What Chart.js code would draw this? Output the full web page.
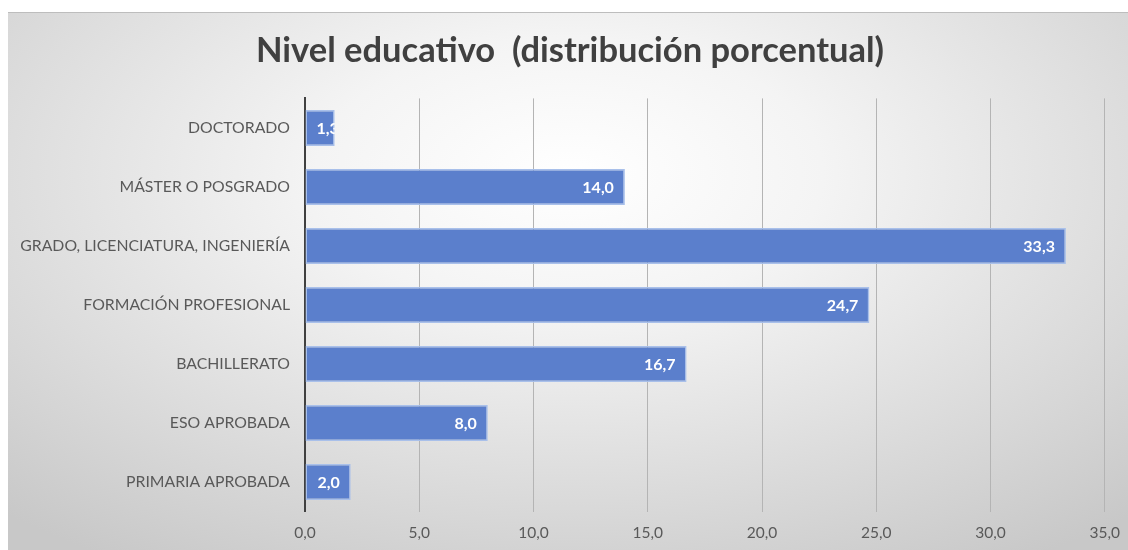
<!DOCTYPE html>
<html>
<head>
<meta charset="utf-8">
<script src="https://cdn.jsdelivr.net/npm/chart.js@4"></script>
<style>
  body { margin: 0; background: #fff; overflow: hidden; }
  #wrap {
    position: absolute; left: 8px; top: 12px; width: 1124px; height: 538px;
    background: radial-gradient(ellipse 75% 85% at 50% 30%, #ffffff 0%, #f4f4f4 30%, #dedede 65%, #c8c8c8 100%);
    border-top: 1px solid #bdbdbd;
  }
</style>
</head>
<body>
<div id="wrap"><canvas id="nivel-chart" width="1124" height="538"></canvas></div>
<script>
let categorias = ['DOCTORADO', 'MÁSTER O POSGRADO', 'GRADO, LICENCIATURA, INGENIERÍA', 'FORMACIÓN PROFESIONAL', 'BACHILLERATO', 'ESO APROBADA', 'PRIMARIA APROBADA'];
let porcentajes = [1.3, 14.0, 33.3, 24.7, 16.7, 8.0, 2.0];
let ejeMax = 35;
let ejePaso = 5;

function coma(v){
  return Number(v).toFixed(1).replace('.', ',');
}

// etiquetas blancas dentro del final de cada barra (recortadas a la barra)
const etiquetasBarras = {
  id: 'etiquetasBarras',
  afterDatasetsDraw(chart){
    const ctx = chart.ctx;
    const meta = chart.getDatasetMeta(0);
    ctx.save();
    ctx.font = 'bold 16px Lato';
    ctx.fillStyle = '#ffffff';
    ctx.textBaseline = 'middle';
    meta.data.forEach((bar, i) => {
      const txt = coma(porcentajes[i]);
      const w = ctx.measureText(txt).width;
      let x = Math.max(bar.x - 11 - w, bar.base + 11);
      ctx.save();
      ctx.beginPath();
      ctx.rect(bar.base, bar.y - bar.height / 2, bar.x - bar.base, bar.height);
      ctx.clip();
      ctx.fillText(txt, x, bar.y + 1);
      ctx.restore();
    });
    ctx.restore();
  }
};

document.addEventListener('DOMContentLoaded', function() {
  var ctx = document.getElementById('nivel-chart').getContext('2d');
  var myChart = new Chart(ctx, {
    type: 'bar',
    data: {
      labels: categorias,
      datasets: [{
        data: porcentajes,
        backgroundColor: '#5b7fcc',
        borderColor: '#a9c0ea',
        borderWidth: 1.5,
        borderSkipped: false,
        categoryPercentage: 1,
        barPercentage: 0.61
      }]
    },
    plugins: [etiquetasBarras],
    options: {
      indexAxis: 'y',
      responsive: false,
      animation: false,
      layout: { padding: { left: 0, right: 0, top: 0, bottom: 0 } },
      plugins: {
        legend: { display: false },
        tooltip: { enabled: false },
        title: {
          display: true,
          text: 'Nivel educativo  (distribución porcentual)',
          color: '#404040',
          font: { family: 'Lato', size: 34.5, weight: 'bold', lineHeight: 1.2 },
          padding: { top: 17, bottom: 27 }
        }
      },
      scales: {
        x: {
          min: 0,
          max: ejeMax,
          ticks: {
            stepSize: ejePaso,
            color: '#595959',
            font: { family: 'Lato', size: 15.5 },
            padding: 12,
            callback: v => coma(v)
          },
          grid: { color: '#b4b4b4', lineWidth: 1, drawTicks: false },
          border: { display: false },
          afterFit: s => { s.height = 39.5; }
        },
        y: {
          ticks: {
            color: '#595959',
            font: { family: 'Lato', size: 15.8 },
            padding: 15
          },
          grid: { display: false, drawTicks: false },
          border: { display: true, color: '#404040', width: 2 },
          afterFit: s => { s.width = 297; }
        }
      }
    }
  });
});
</script>
</body>
</html>
